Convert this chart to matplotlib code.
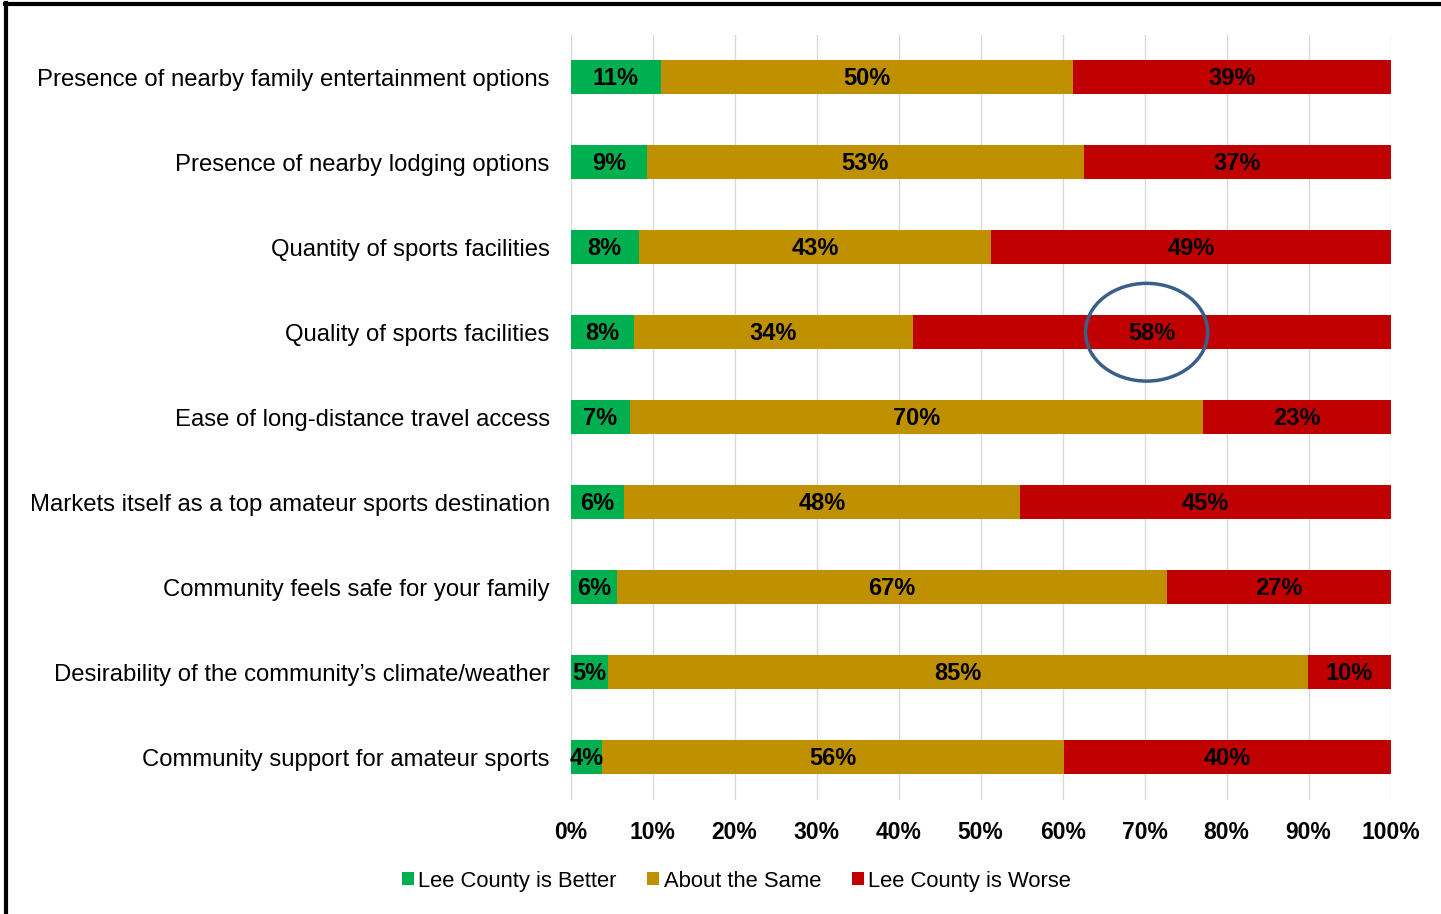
import numpy as np
import matplotlib.pyplot as plt
from matplotlib.patches import Ellipse
from matplotlib.lines import Line2D

plt.rcParams['font.family'] = ['Liberation Sans', 'DejaVu Sans']

# --- dati (percentuali, dall'alto in basso) ---
categorie = [
    "Presence of nearby family entertainment options",
    "Presence of nearby lodging options",
    "Quantity of sports facilities",
    "Quality of sports facilities",
    "Ease of long-distance travel access",
    "Markets itself as a top amateur sports destination",
    "Community feels safe for your family",
    "Desirability of the community\u2019s climate/weather",
    "Community support for amateur sports",
]
meglio = [11.0, 9.3, 8.3, 7.7, 7.2, 6.5, 5.7, 4.6, 3.8]
uguale = [50.3, 53.3, 43.0, 34.0, 69.9, 48.3, 67.0, 85.3, 56.4]
peggio = [38.7, 37.4, 48.7, 58.3, 22.9, 45.2, 27.3, 10.1, 39.8]
etichette_meglio = ["11%", "9%", "8%", "8%", "7%", "6%", "6%", "5%", "4%"]
etichette_uguale = ["50%", "53%", "43%", "34%", "70%", "48%", "67%", "85%", "56%"]
etichette_peggio = ["39%", "37%", "49%", "58%", "23%", "45%", "27%", "10%", "40%"]
serie = ["Lee County is Better", "About the Same", "Lee County is Worse"]
colori = ["#00B050", "#BF9000", "#C00000"]
tick_x = [0, 10, 20, 30, 40, 50, 60, 70, 80, 90, 100]
riga_evidenziata = 3  # "Quality of sports facilities"

fig = plt.figure(figsize=(14.41, 9.14), dpi=100)
ax = fig.add_axes([0.396, 0.125, 0.569, 0.837])

y = np.arange(len(categorie))
left = np.zeros(len(categorie))
for valori, etich, col, nome in zip([meglio, uguale, peggio],
                                    [etichette_meglio, etichette_uguale, etichette_peggio],
                                    colori, serie):
    valori = np.array(valori)
    ax.barh(y, valori, left=left, height=0.4, color=col, label=nome, zorder=2)
    for yi, l, v, t in zip(y, left, valori, etich):
        ax.text(l + v / 2, yi + 0.02, t, ha='center', va='center', fontsize=17,
                fontweight='bold', color='black', zorder=3)
    left = left + valori

# cerchio attorno al 58%
r = riga_evidenziata
cx = meglio[r] + uguale[r] + peggio[r] / 2 - 0.6
ax.add_patch(Ellipse((cx, r), 14.9, 1.15, fill=False, edgecolor='#3A5F8A',
                     linewidth=2.5, zorder=4))

ax.set_xlim(0, 100)
ax.set_ylim(len(categorie) - 0.5, -0.5)
ax.set_xticks(tick_x)
ax.set_xticklabels([f"{t}%" for t in tick_x], fontsize=16.5, fontweight='bold')
ax.set_yticks(y)
ax.set_yticklabels(categorie, fontsize=17.2)
ax.tick_params(axis='both', length=0)
ax.tick_params(axis='y', pad=15)
ax.tick_params(axis='x', pad=15)
ax.grid(axis='x', color='#D9D9D9', linewidth=1, zorder=0)
ax.set_axisbelow(True)
for s in ax.spines.values():
    s.set_visible(False)

ax.legend(loc='center', bbox_to_anchor=(0.511, 0.036), bbox_transform=fig.transFigure,
          ncol=3, frameon=False, fontsize=15.8, handlelength=0.55, handleheight=0.55,
          handletextpad=0.2, columnspacing=1.4)

# cornice nera (sinistra e sopra)
fig.add_artist(Line2D([0.0045, 0.0045], [0, 0.997], color='black', linewidth=3,
                      transform=fig.transFigure))
fig.add_artist(Line2D([0.0035, 1.0], [0.996, 0.996], color='black', linewidth=3,
                      transform=fig.transFigure))

fig.savefig("out.png", dpi=100)
